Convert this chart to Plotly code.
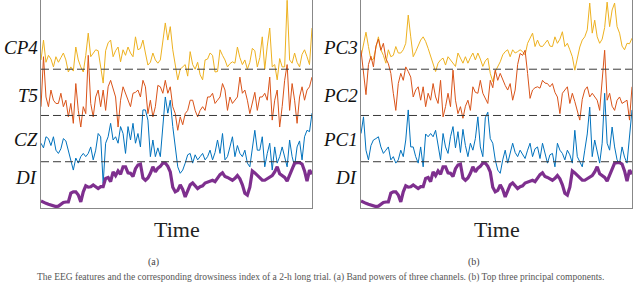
import plotly.graph_objects as go

# ---------------- data (values relative to each trace's own baseline) ----------------
t = list(range(110))

cp4 = [2.0, 6.3, 1.5, 3.0, 2.2, 0.5, 2.7, 1.5, 2.5, 3.5, 2.0, -0.6, 0.5, -0.4, 4.8, 2.0, 0.5, -0.6, 3.0, 7.8,
       2.7, 3.5, 4.2, 4.0, 0.5, -3.0, 4.0, 5.7, 6.3, 2.7, 4.0, 4.8, 1.6, 4.2, 3.0, 4.8, 3.5, 2.7, 7.0, 4.2,
       4.5, 6.3, 3.5, 0.9, 1.5, 3.5, 2.0, 1.3, 2.0, 6.3, 10.0, 6.3, 9.2, 4.2, 1.0, -2.3, 0.0, 0.5, 1.0, -1.5,
       3.8, 1.0, 0.0, 1.5, -1.2, -2.3, 2.0, 2.2, 3.5, 3.0, -0.6, -0.5, 4.2, 3.0, 2.0, 0.5, 1.2, 1.6, 1.3, 4.8,
       2.5, 1.0, 2.0, 0.0, 1.5, 4.5, 4.0, 0.5, 2.5, 7.0, 0.0, 5.0, 8.9, 0.5, 1.0, -2.3, 2.3, 0.5, 0.5, 15.0,
       2.0, 1.3, 3.5, 1.5, 0.5, 3.2, 4.2, 2.7, 1.0, 8.9]

t5 = [1.9, 12.7, 4.0, 1.9, 5.5, 3.3, 2.6, 2.6, 4.8, 1.9, 3.3, -0.3, 2.6, -1.7, 6.9, 1.1, -2.5, 1.9, 0.4, 13.0,
      2.6, -0.3, 4.0, 5.5, 1.9, 5.5, 1.1, 6.2, 7.6, 5.5, 4.0, -2.5, 3.3, 6.2, 4.8, 3.3, 1.9, 4.8, 5.0, 5.5,
      4.0, 7.6, 6.2, 0.4, 3.3, -0.3, 1.9, 6.5, 6.2, 4.8, 7.6, 4.8, 6.2, 1.9, 0.4, -3.2, -0.3, -2.0, 0.4, 1.1,
      3.3, 3.3, 1.1, -0.3, 1.1, 1.9, 1.1, 4.0, 4.0, 4.8, 2.6, 3.3, 4.0, 6.9, 5.5, 1.1, 4.0, 2.6, 3.3, 4.0,
      8.3, 4.8, 5.5, 3.3, 0.4, 2.6, 5.0, 1.1, 4.0, 4.0, 4.8, 3.3, 8.3, -1.0, 3.3, 5.5, -2.5, 1.9, 7.6, 11.0,
      1.1, 6.9, 3.3, -1.7, 4.0, 6.2, 3.3, 5.5, 6.2, 8.3]

cz = [4.0, 3.0, 5.4, 5.0, 3.5, 5.4, 2.5, 1.8, 2.8, 5.0, 4.5, 2.5, 0.4, -1.8, 0.8, -0.3, 1.1, 1.8, 1.1, 1.8,
      3.2, 0.4, 2.5, 6.1, 5.4, -4.7, 4.0, 5.4, 8.3, 4.7, 5.4, 4.0, 7.6, 6.1, 1.8, 7.6, 4.7, 8.3, 4.0, 6.1,
      3.2, 11.2, 11.2, 9.0, 1.1, 4.7, 1.1, 3.0, 1.1, 8.3, 14.0, 10.5, 13.3, 7.6, 2.5, -1.1, -2.5, -1.8, -0.3, 1.5,
      1.8, -0.3, 1.5, 0.4, 1.1, 1.8, 0.4, 1.1, 2.5, 0.4, 2.0, 4.7, 1.8, 6.1, 0.4, 1.1, 3.2, 5.4, 1.1, 3.5,
      1.8, 1.1, 2.5, -0.3, -1.1, 3.2, 6.8, 2.5, 2.5, 5.4, -1.1, 1.8, 4.0, -1.8, 3.2, -0.3, 1.1, 3.2, 1.1, -1.1,
      4.7, 1.1, -1.0, 3.2, 4.5, 0.4, 5.4, 6.8, 6.5, 10.5]

di = [1.5, 1.2, 1.0, 0.8, 0.6, 0.5, 0.3, 0.4, 0.8, 1.2, 1.3, 1.3, 3.2, 3.5, 3.5, 2.8, 1.3, 3.5, 4.8, 4.5,
      4.6, 5.0, 4.6, 4.2, 4.6, 4.6, 6.4, 6.6, 5.7, 7.8, 7.0, 8.0, 7.3, 8.9, 8.9, 7.6, 7.5, 6.8, 8.5, 9.3,
      9.5, 6.5, 6.0, 6.5, 7.5, 8.9, 7.8, 8.6, 9.0, 9.7, 9.7, 9.0, 7.8, 4.5, 3.5, 3.8, 5.0, 4.0, 2.4, 3.8,
      5.0, 5.4, 4.8, 4.2, 4.6, 4.8, 5.4, 5.6, 5.9, 6.0, 5.7, 6.5, 7.2, 7.6, 6.8, 6.6, 6.2, 6.0, 6.4, 7.0,
      6.3, 5.0, 3.2, 2.8, 4.5, 8.0, 7.6, 7.0, 6.4, 6.0, 6.0, 6.4, 6.6, 7.0, 7.8, 8.9, 7.4, 7.0, 6.6, 5.8,
      7.2, 8.6, 9.7, 9.8, 9.8, 9.5, 8.0, 5.8, 8.2, 7.3]

pc3 = [2.7, 5.0, 8.0, 4.9, 2.0, 2.2, 4.9, 7.0, 4.2, 3.0, 1.3, 4.2, 2.7, 3.0, 4.9, 3.5, 3.5, 4.2, 5.6, 11.7,
       7.0, 2.7, 3.8, 4.9, 6.3, 7.0, 6.0, 4.5, 2.7, 1.3, -0.5, 1.3, 2.0, 2.4, 0.9, 2.7, 2.0, 1.3, 0.6, 3.5,
       2.2, 1.3, 2.7, 1.3, 2.5, 3.5, 2.0, 3.5, 2.2, 0.6, 1.8, 2.4, -0.9, -2.7, -0.5, 0.6, 1.6, 3.1, 3.8, 4.2,
       2.7, 4.2, 3.5, 3.8, 4.2, 3.8, 3.1, 5.6, 6.8, 7.8, 4.9, 6.3, 5.0, 4.9, 5.6, 6.3, 5.0, 4.9, 7.0, 5.6,
       6.5, 8.1, 4.9, 5.6, 4.2, 2.7, -0.2, 2.5, 4.8, 6.3, 7.0, 8.5, 14.3, 7.8, 10.6, 7.0, 5.6, 6.5, 9.0, 14.5,
       9.2, 12.8, 14.3, 9.2, 7.8, 5.0, 4.2, 5.6, 5.5, 6.7]

pc2 = [14.1, 9.0, 4.5, 11.0, 12.8, 10.5, 15.0, 16.5, 14.1, 15.6, 12.3, 11.2, 9.1, 4.8, 1.1, 6.9, 9.1, 7.6, 10.5, 9.5,
       8.3, 4.0, 5.5, 6.2, 3.3, 6.2, 1.9, 4.8, 3.3, 6.9, 4.0, 2.6, 7.6, -0.3, 1.9, 4.8, 1.9, 9.8, 3.3, 0.4,
       1.9, -0.6, 2.0, 3.3, 1.1, 6.2, 5.0, 4.8, 7.6, 4.8, 3.5, 2.6, 7.6, 6.0, 9.8, 7.6, 9.1, 7.6, 6.5, 5.5,
       6.9, 3.3, 5.5, 11.0, 13.4, 13.0, 14.1, 9.1, 3.7, 5.5, 6.0, 6.2, 5.9, 7.6, 7.0, 6.9, 6.2, 6.9, 5.0, 4.0,
       0.4, 4.8, 5.5, 6.2, 2.6, 4.8, 3.0, 1.1, -1.0, 3.5, 5.5, 6.2, 4.0, 4.8, 4.0, 3.3, 1.1, 6.9, 14.1, 3.3,
       4.8, 2.0, 1.1, 3.3, 4.0, 2.6, 3.0, 3.3, -1.0, 6.2]

pc1 = [6.1, 9.7, 2.5, 0.4, 3.5, 4.7, 5.0, 5.4, 3.2, 1.8, 2.5, 3.2, 0.4, 1.1, -0.3, 0.4, 2.5, 1.1, 4.7, 11.2,
       3.2, 3.2, 1.1, -0.3, 3.2, -1.1, 6.0, 5.4, 6.1, 5.4, 6.8, 3.2, 0.4, 6.1, 3.2, 1.8, 5.4, 7.6, 3.0, 6.5,
       2.0, 7.0, 3.5, 1.1, 4.0, 2.5, 5.0, 9.7, 3.2, 1.1, 9.5, 10.7, 5.0, 4.0, 0.4, -1.8, -2.5, 0.4, 2.5, -0.3,
       1.8, 4.0, 2.0, 1.1, 2.5, 1.5, 0.7, 2.5, 4.0, 1.1, 2.8, 3.2, 0.7, 4.0, 2.0, -0.3, 1.5, 1.8, -1.1, 4.0,
       2.5, 1.8, 0.4, 2.5, 1.5, -0.3, 6.8, 1.1, 0.0, -1.1, 2.5, 6.0, 11.8, 1.1, 4.7, 2.0, -0.3, 4.0, 14.8, 4.0,
       2.5, 7.5, 3.2, 0.4, -0.3, 3.2, 1.0, -0.3, 5.4, 11.2]

labels_a = ["CP4", "T5", "CZ", "DI"]
labels_b = ["PC3", "PC2", "PC1", "DI"]
panel_tags = ["(a)", "(b)"]
x_title = "Time"
caption = ("The EEG features and the corresponding drowsiness index of a 2-h long trial. "
           "(a) Band powers of three channels. (b) Top three principal components.")

# ---------------- styling ----------------
YELLOW = "#EDB120"
ORANGE = "#D95319"
BLUE = "#0072BD"
PURPLE = "#7E2F8E"
BAND = 10.0                # one band per trace
offsets = [3 * BAND, 2 * BAND, BAND, 0.0]
YMAX = 44.9
SERIF = "Liberation Serif"

fig = go.Figure()

panels = [
    ("x", "y", [cp4, t5, cz, di], labels_a),
    ("x2", "y2", [pc3, pc2, pc1, di], labels_b),
]
colors = [YELLOW, ORANGE, BLUE, PURPLE]
widths = [1.0, 1.0, 1.0, 3.2]
label_pos = [34.6, 24.4, 14.7, 6.7]

annotations = []
shapes = []
for xa, ya, series, labels in panels:
    for s, off, c, w in zip(series, offsets, colors, widths):
        fig.add_trace(go.Scatter(
            x=t, y=[v + off for v in s], mode="lines",
            line=dict(color=c, width=w), xaxis=xa, yaxis=ya,
            showlegend=False, hoverinfo="skip"))
    for lvl in [BAND, 2 * BAND, 3 * BAND]:
        shapes.append(dict(type="line", xref=f"{xa} domain", x0=0, x1=1,
                           yref=ya, y0=lvl, y1=lvl,
                           line=dict(color="#3a3a3a", width=1, dash="8px,4px"), layer="above"))
    for lab, yp in zip(labels, label_pos):
        annotations.append(dict(text=f"<i>{lab}</i>", xref=f"{xa} domain", x=0, xanchor="right",
                                xshift=-1, yref=ya, y=yp, yanchor="middle", showarrow=False,
                                font=dict(family=SERIF, size=19, color="#111")))

dom_a = [41 / 640, 312 / 640]
dom_b = [361 / 640, 632 / 640]
ydom = [1 - 208 / 283, 0.999]

for i, (dom, tag) in enumerate(zip([dom_a, dom_b], panel_tags)):
    cx = (dom[0] + dom[1]) / 2
    annotations.append(dict(text=x_title, xref="paper", yref="paper", x=cx, y=1 - 229 / 283,
                            xanchor="center", yanchor="middle", showarrow=False,
                            font=dict(family=SERIF, size=22, color="#222")))
    annotations.append(dict(text=tag, xref="paper", yref="paper", x=cx - 23 / 640, y=1 - 262 / 283,
                            xanchor="center", yanchor="middle", showarrow=False,
                            font=dict(family=SERIF, size=10, color="#444")))

annotations.append(dict(text=caption, xref="paper", yref="paper", x=0.5, y=1 - 277 / 283,
                        xanchor="center", yanchor="middle", showarrow=False,
                        font=dict(family=SERIF, size=9.5, color="#555")))

axis_common = dict(showgrid=False, zeroline=False, showticklabels=False, ticks="",
                   showline=True, mirror=True, linecolor="#888888", linewidth=1)

fig.update_layout(
    width=640, height=283,
    margin=dict(l=0, r=0, t=0, b=0),
    paper_bgcolor="white", plot_bgcolor="white",
    xaxis=dict(domain=dom_a, range=[0, 109], **axis_common),
    yaxis=dict(domain=ydom, range=[0, YMAX], **axis_common),
    xaxis2=dict(domain=dom_b, range=[0, 109], anchor="y2", **axis_common),
    yaxis2=dict(domain=ydom, range=[0, YMAX], anchor="x2", **axis_common),
    shapes=shapes, annotations=annotations,
)

fig.write_html("out.html", config={"displayModeBar": False, "staticPlot": True},
               post_script="document.body.style.margin='0';document.body.style.overflow='hidden';")
